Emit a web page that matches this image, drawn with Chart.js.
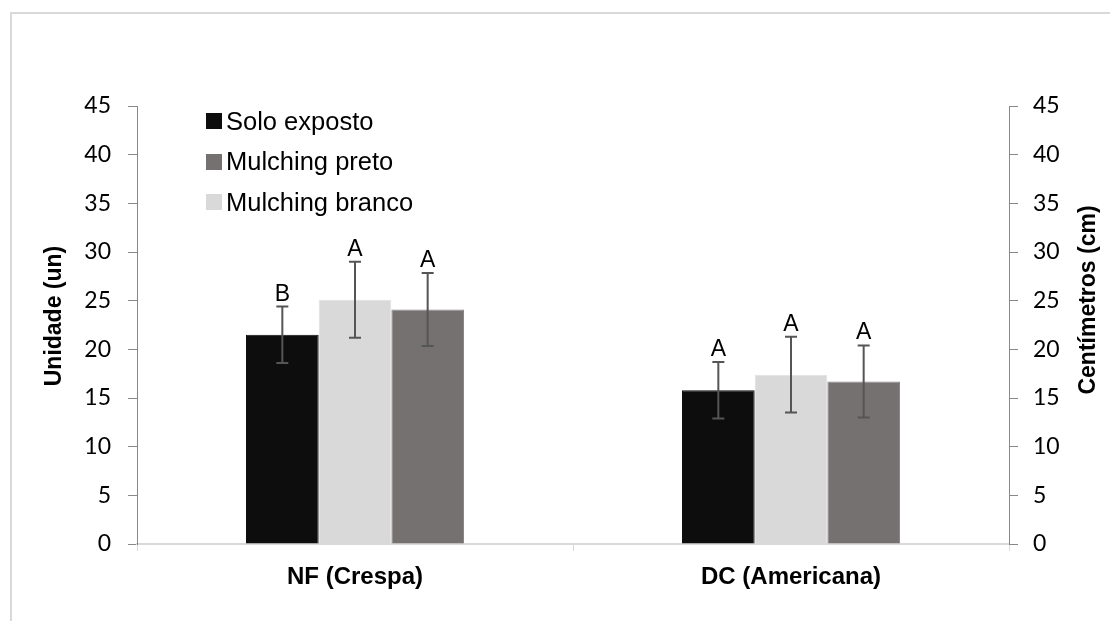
<!DOCTYPE html>
<html>
<head>
<meta charset="utf-8">
<script src="https://cdn.jsdelivr.net/npm/chart.js@4"></script>
<style>
  html, body { margin: 0; padding: 0; background: #fff; }
  #wrap { position: relative; width: 1110px; height: 621px; overflow: hidden; }
  #frame { position: absolute; left: 10px; top: 12px; width: 1200px; height: 700px;
           border: 2px solid #d9d9d9; box-sizing: border-box; }
  #chart { position: absolute; left: 0; top: 0; }
  #legend { position: absolute; left: 206px; top: 101px; font-family: "Liberation Sans", Arial, sans-serif;
            font-size: 25.5px; color: #000; }
  #legend .row { display: flex; align-items: center; height: 40.5px; }
  #legend .box { width: 16px; height: 16px; margin-right: 4px; }
</style>
</head>
<body>
<div id="wrap">
  <div id="frame"></div>
  <canvas id="chart" width="1110" height="621"></canvas>
  <div id="legend"></div>
</div>
<script>
// data
var categories = ['NF (Crespa)', 'DC (Americana)'];

var soloExposto = [21.5, 15.8];
var soloErr = [2.9, 2.9];
var soloLetters = ['B', 'A'];

var mulchingBranco = [25.1, 17.4];
var brancoErr = [3.9, 3.9];
var brancoLetters = ['A', 'A'];

var mulchingPreto = [24.1, 16.7];
var pretoErr = [3.75, 3.7];
var pretoLetters = ['A', 'A'];

var yTicks = [0, 5, 10, 15, 20, 25, 30, 35, 40, 45];

var leftTitle = 'Unidade (un)';
var rightTitle = 'Centímetros (cm)';

var colSolo = '#0d0d0d', colBranco = '#d9d9d9', colPreto = '#767171';

// legend (order as in the picture)
var legendItems = [
    ['Solo exposto', colSolo],
    ['Mulching preto', colPreto],
    ['Mulching branco', colBranco]
];
var leg = '';
legendItems.forEach(function (it) {
    leg += '<div class="row"><div class="box" style="background:' + it[1] + '"></div>' + it[0] + '</div>';
});
document.getElementById('legend').innerHTML = leg;

// error bars + letters
var extrasPlugin = {
    id: 'extras',
    afterDatasetsDraw: function (chart) {
        var ctx = chart.ctx;
        var y = chart.scales.y;
        chart.data.datasets.forEach(function (ds, di) {
            var meta = chart.getDatasetMeta(di);
            meta.data.forEach(function (bar, i) {
                var v = ds.data[i], e = ds.errors[i];
                var yTop = y.getPixelForValue(v + e);
                var yBot = y.getPixelForValue(v - e);
                ctx.save();
                ctx.strokeStyle = '#555';
                ctx.lineWidth = 2;
                ctx.beginPath();
                ctx.moveTo(bar.x, yTop); ctx.lineTo(bar.x, yBot);
                ctx.moveTo(bar.x - 6, yTop); ctx.lineTo(bar.x + 6, yTop);
                ctx.moveTo(bar.x - 6, yBot); ctx.lineTo(bar.x + 6, yBot);
                ctx.stroke();
                ctx.fillStyle = '#000';
                ctx.font = '23px "Liberation Sans", Arial, sans-serif';
                ctx.textAlign = 'center';
                ctx.textBaseline = 'alphabetic';
                ctx.fillText(ds.letters[i], bar.x, yTop - 6);
                ctx.restore();
            });
        });
    },
    afterDraw: function (chart) {
        var ctx = chart.ctx;
        ctx.save();
        ctx.fillStyle = '#000';
        ctx.font = 'bold 23px "Liberation Sans", Arial, sans-serif';
        ctx.textAlign = 'center';
        ctx.textBaseline = 'middle';
        ctx.translate(55, 316);
        ctx.rotate(-Math.PI / 2);
        ctx.fillText(leftTitle, 0, 0);
        ctx.restore();
        ctx.save();
        ctx.fillStyle = '#000';
        ctx.font = 'bold 23px "Liberation Sans", Arial, sans-serif';
        ctx.textAlign = 'center';
        ctx.textBaseline = 'middle';
        ctx.translate(1089, 300);
        ctx.rotate(-Math.PI / 2);
        ctx.fillText(rightTitle, 0, 0);
        ctx.restore();
    }
};

var tickFont = {family: 'Lato, "Open Sans", sans-serif', size: 23};

new Chart(document.getElementById('chart'), {
    type: 'bar',
    data: {
        labels: categories,
        datasets: [
            {label: 'Solo exposto', data: soloExposto, errors: soloErr, letters: soloLetters,
                backgroundColor: colSolo, borderColor: colSolo, borderWidth: 1},
            {label: 'Mulching branco', data: mulchingBranco, errors: brancoErr, letters: brancoLetters,
                backgroundColor: colBranco, borderColor: '#e0e0e0', borderWidth: 1},
            {label: 'Mulching preto', data: mulchingPreto, errors: pretoErr, letters: pretoLetters,
                backgroundColor: colPreto, borderColor: '#8a8686', borderWidth: 1}
        ]
    },
    options: {
        responsive: false,
        animation: false,
        layout: {padding: {top: 106, left: 0, right: 0, bottom: 0}},
        datasets: {bar: {barPercentage: 1, categoryPercentage: 0.5}},
        plugins: {legend: {display: false}, tooltip: {enabled: false}},
        scales: {
            x: {
                grid: {drawOnChartArea: false, offset: true, tickLength: 7, color: '#d9d9d9'},
                border: {color: '#d9d9d9', width: 2},
                ticks: {color: '#000', padding: 12,
                    font: {family: '"Liberation Sans", Arial, sans-serif', size: 24, weight: 'bold'}},
                afterFit: function (s) { s.height = 77; }
            },
            y: {
                position: 'left', min: 0, max: 45,
                afterBuildTicks: function (s) { s.ticks = yTicks.map(function (v) { return {value: v}; }); },
                grid: {drawOnChartArea: false, tickLength: 9, color: '#888'},
                border: {color: '#888'},
                ticks: {color: '#000', padding: 17, font: tickFont},
                afterFit: function (s) { s.width = 137; }
            },
            y2: {
                position: 'right', min: 0, max: 45,
                afterBuildTicks: function (s) { s.ticks = yTicks.map(function (v) { return {value: v}; }); },
                grid: {drawOnChartArea: false, tickLength: 9, color: '#888'},
                border: {color: '#888'},
                ticks: {color: '#000', padding: 15, font: tickFont},
                afterFit: function (s) { s.width = 101; }
            }
        }
    },
    plugins: [extrasPlugin]
});
</script>
</body>
</html>
